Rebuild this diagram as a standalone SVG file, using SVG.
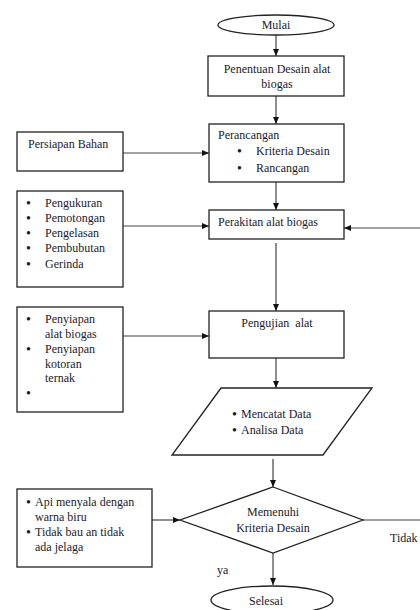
<svg xmlns="http://www.w3.org/2000/svg" width="420" height="610" viewBox="0 0 420 610" font-family="'Liberation Serif', 'Times New Roman', serif" font-size="12">
<defs>
<marker id="arr" markerWidth="8" markerHeight="8" refX="7" refY="4" orient="auto" markerUnits="userSpaceOnUse">
<path d="M0,1 L7,4 L0,7 Z" fill="#111"/>
</marker>
<style>
.shape{fill:#fff;stroke:#222;stroke-width:1.3}
.conn{fill:none;stroke:#444;stroke-width:1.2}
text{font-family:'Liberation Serif','Times New Roman',serif;font-size:12px;fill:#1a1a2a}
.c{text-anchor:middle}
.b{font-size:14px}
</style>
</defs>
<rect width="420" height="610" fill="#fff"/>
<g id="connectors">
<line class="conn" x1="276" y1="35" x2="276" y2="56" marker-end="url(#arr)"/>
<line class="conn" x1="276" y1="96" x2="276" y2="124" marker-end="url(#arr)"/>
<line class="conn" x1="123" y1="153" x2="209" y2="153" marker-end="url(#arr)"/>
<line class="conn" x1="276" y1="182" x2="276" y2="210" marker-end="url(#arr)"/>
<line class="conn" x1="123" y1="226" x2="209" y2="226" marker-end="url(#arr)"/>
<line class="conn" x1="420" y1="228" x2="344" y2="228" marker-end="url(#arr)"/>
<line class="conn" x1="276" y1="243" x2="276" y2="311" marker-end="url(#arr)"/>
<line class="conn" x1="123" y1="336" x2="209" y2="336" marker-end="url(#arr)"/>
<line class="conn" x1="276" y1="358" x2="276" y2="388" marker-end="url(#arr)"/>
<line class="conn" x1="273" y1="459" x2="273" y2="487" marker-end="url(#arr)"/>
<line class="conn" x1="152" y1="520" x2="180" y2="520" marker-end="url(#arr)"/>
<line class="conn" x1="363" y1="520" x2="420" y2="520"/>
<line class="conn" x1="273" y1="553" x2="273" y2="585" marker-end="url(#arr)"/>
<text x="390" y="542">Tidak</text>
<text x="217" y="574">ya</text>
</g>
<g id="mulai">
<ellipse class="shape" cx="276" cy="25" rx="58" ry="10"/>
<text class="c" x="276" y="29">Mulai</text>
</g>
<g id="penentuan">
<rect class="shape" x="208" y="56" width="136" height="40"/>
<text class="c" x="277" y="73">Penentuan Desain alat</text>
<text class="c" x="277" y="88">biogas</text>
</g>
<g id="persiapan">
<rect class="shape" x="17" y="132" width="106" height="39"/>
<text x="28" y="148">Persiapan Bahan</text>
</g>
<g id="perancangan">
<rect class="shape" x="209" y="124" width="135" height="58"/>
<text x="218" y="139">Perancangan</text>
<text class="b" x="237" y="156">•</text>
<text x="256" y="155">Kriteria Desain</text>
<text class="b" x="237" y="173">•</text>
<text x="256" y="172">Rancangan</text>
</g>
<g id="proses-list">
<rect class="shape" x="17" y="191" width="106" height="96"/>
<text class="b" x="26" y="208">•</text><text x="45" y="207">Pengukuran</text>
<text class="b" x="26" y="223">•</text><text x="45" y="222">Pemotongan</text>
<text class="b" x="26" y="238">•</text><text x="45" y="237">Pengelasan</text>
<text class="b" x="26" y="253">•</text><text x="45" y="252">Pembubutan</text>
<text class="b" x="26" y="269">•</text><text x="45" y="268">Gerinda</text>
</g>
<g id="perakitan">
<rect class="shape" x="209" y="210" width="135" height="29"/>
<text x="218" y="226">Perakitan alat biogas</text>
</g>
<g id="penyiapan">
<rect class="shape" x="17" y="307" width="106" height="105"/>
<text class="b" x="26" y="324">•</text><text x="45" y="323">Penyiapan</text>
<text x="45" y="338">alat biogas</text>
<text class="b" x="26" y="354">•</text><text x="45" y="353">Penyiapan</text>
<text x="45" y="368">kotoran</text>
<text x="45" y="382">ternak</text>
<text class="b" x="26" y="398">•</text>
</g>
<g id="pengujian">
<rect class="shape" x="209" y="311" width="135" height="47"/>
<text class="c" x="277" y="327" xml:space="preserve">Pengujian  alat</text>
</g>
<g id="data">
<polygon class="shape" points="221,388 372,388 323,455 172,455"/>
<text class="b" x="232" y="419">•</text><text x="241" y="418">Mencatat Data</text>
<text class="b" x="232" y="435">•</text><text x="241" y="434">Analisa Data</text>
</g>
<g id="kriteria-list">
<rect class="shape" x="17" y="489" width="135" height="78"/>
<text class="b" x="26" y="507">•</text><text x="35" y="506">Api menyala dengan</text>
<text x="35" y="521">warna biru</text>
<text class="b" x="26" y="537">•</text><text x="35" y="536">Tidak bau an tidak</text>
<text x="35" y="551">ada jelaga</text>
</g>
<g id="memenuhi">
<polygon class="shape" points="273,487 363,520 273,553 180,520"/>
<text class="c" x="273" y="516">Memenuhi</text>
<text class="c" x="273" y="532">Kriteria Desain</text>
</g>
<g id="selesai">
<ellipse class="shape" cx="272" cy="600" rx="61" ry="14"/>
<text class="c" x="266" y="605">Selesai</text>
</g>
</svg>
